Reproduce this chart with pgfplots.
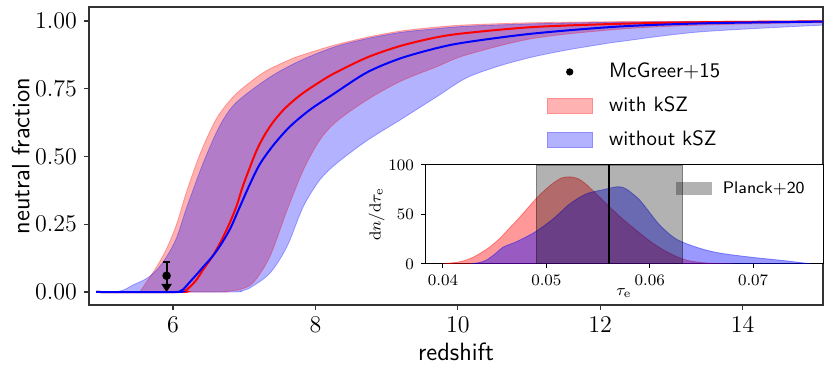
\documentclass[border=0pt]{standalone}
\usepackage{pgfplots}
\pgfplotsset{compat=1.18}
\usepgfplotslibrary{fillbetween}
\usetikzlibrary{arrows.meta}

\newcommand{\tickfont}{\fontsize{12.2}{14}\selectfont}
\newcommand{\labfont}{\fontsize{12.5}{15}\selectfont\sffamily}
\newcommand{\legfont}{\fontsize{10.4}{12}\selectfont\sffamily}
\newcommand{\insetfont}{\fontsize{8.4}{10}\selectfont}

\begin{document}
\begin{tikzpicture}

\begin{axis}[
    at={(0pt,0pt)}, anchor=south west,
    scale only axis, width=367pt, height=149pt,
    xmin=4.82, xmax=15.13, ymin=-0.048, ymax=1.052,
    xtick={6,8,10,12,14}, ytick={0,0.25,0.5,0.75,1},
    xtick pos=bottom, ytick pos=left,
    tick align=outside, major tick length=2.5pt,
    axis line style={black!80, line width=0.8pt},
    every tick/.style={black!80, line width=0.6pt},
    yticklabel style={/pgf/number format/fixed, /pgf/number format/fixed zerofill,
        /pgf/number format/precision=2, font=\tickfont},
    xticklabel style={font=\tickfont},
    xlabel={redshift}, ylabel={neutral fraction},
    xlabel style={font=\labfont, at={(axis description cs:0.5,0)}, anchor=center, yshift=-23.5pt},
    ylabel style={font=\labfont, at={(axis description cs:-0.093,0.5)}, anchor=center},
    legend style={draw=none, fill=none, at={(axis description cs:0.615,0.84)}, anchor=north west,
        font=\legfont, row sep=4pt},
    legend cell align=left,
]

% with kSZ band
\addplot[forget plot, name path=ru, smooth, tension=0.5, draw=red, draw opacity=0.3, line width=0.4pt] coordinates {
    (4.92,0) (5.48,0) (5.54,0.004) (5.63,0.038) (5.77,0.093) (5.91,0.16) (6.05,0.25) (6.19,0.37)
    (6.38,0.51) (6.61,0.64) (6.85,0.722) (7.1,0.778) (7.32,0.818) (7.6,0.853) (7.78,0.872)
    (8.25,0.91) (8.72,0.94) (9.19,0.963) (9.66,0.977) (10.12,0.986) (11.06,0.994)
    (12.27,0.998) (13.5,0.999) (15.13,1.0)
};
\addplot[forget plot, name path=rl, smooth, tension=0.5, draw=red, draw opacity=0.3, line width=0.4pt] coordinates {
    (4.92,0) (6.6,0) (6.75,0.002) (6.94,0.009) (7.13,0.035) (7.36,0.13) (7.6,0.30) (7.83,0.45)
    (8.06,0.56) (8.30,0.63) (8.72,0.708) (9.19,0.777) (9.7,0.831) (10.12,0.875)
    (11.06,0.936) (12.27,0.97) (13.4,0.985) (15.13,0.995)
};
\addplot[forget plot, fill=red, fill opacity=0.3, draw=none] fill between[of=ru and rl];

% without kSZ band
\addplot[forget plot, name path=bu, smooth, tension=0.5, draw=blue, draw opacity=0.3, line width=0.4pt] coordinates {
    (4.92,0) (5.15,0) (5.3,0.007) (5.44,0.026) (5.63,0.05) (5.77,0.081) (5.91,0.13)
    (6.05,0.2) (6.19,0.31) (6.43,0.48) (6.66,0.615) (6.89,0.7) (7.36,0.793)
    (7.78,0.853) (8.25,0.903) (8.72,0.935) (9.19,0.958) (9.66,0.971) (10.12,0.981)
    (11.06,0.99) (12.27,0.996) (13.5,0.998) (15.13,0.999)
};
\addplot[forget plot, name path=bl, smooth, tension=0.5, draw=blue, draw opacity=0.3, line width=0.4pt] coordinates {
    (4.92,0) (6.8,0) (6.95,0.004) (7.08,0.015) (7.36,0.069) (7.6,0.167) (7.83,0.315)
    (8.06,0.413) (8.30,0.475) (8.72,0.558) (9.19,0.635) (9.7,0.72)
    (10.12,0.79) (10.59,0.835) (11.06,0.868) (11.53,0.893) (11.99,0.913) (12.27,0.924)
    (13.4,0.96) (15.13,0.985)
};
\addplot[forget plot, fill=blue, fill opacity=0.3, draw=none] fill between[of=bu and bl];

% median curves
\addplot[forget plot, red, line width=1pt, smooth, tension=0.5] coordinates {
    (4.92,0) (6.1,0) (6.17,0.004) (6.24,0.02) (6.33,0.045) (6.425,0.083) (6.55,0.13)
    (6.66,0.18) (6.78,0.245) (6.89,0.315) (6.98,0.39) (7.08,0.46) (7.17,0.52) (7.27,0.572)
    (7.4,0.625) (7.55,0.672) (7.7,0.708) (7.83,0.735) (8.0,0.765) (8.25,0.805) (8.72,0.865)
    (9.19,0.908) (9.7,0.94) (10.12,0.956) (11.06,0.978) (12.27,0.99) (13.5,0.996) (15.13,0.999)
};
\addplot[forget plot, blue, line width=1pt, smooth, tension=0.5] coordinates {
    (4.92,0) (6.05,0) (6.1,0.003) (6.145,0.01) (6.24,0.038) (6.33,0.064) (6.425,0.093)
    (6.55,0.13) (6.66,0.17) (6.8,0.232) (6.94,0.315) (7.08,0.398) (7.22,0.472) (7.41,0.542)
    (7.64,0.61) (7.92,0.672) (8.25,0.73) (8.72,0.81) (9.19,0.862) (9.7,0.9) (10.12,0.922)
    (11.06,0.954) (12.27,0.98) (13.5,0.992) (15.13,0.998)
};

% McGreer+15 upper limit
\addplot[forget plot, black, line width=1pt, -{Triangle[width=5pt,length=4pt]}] coordinates {(5.91,0.06) (5.91,0.0)};
\addplot[forget plot, black, mark=*, mark size=1.6pt, line width=1pt,
    error bars/.cd, y dir=plus, y explicit, error mark=-,
    error mark options={rotate=90, mark size=1.8pt, line width=1pt, black},
    error bar style={line width=1pt, black}] coordinates {(5.91,0.06) +- (0,0.05)};

\addlegendimage{legend image code/.code={\fill[black] (11.25pt,0pt) circle (1.6pt);
    \path[draw=none] (0pt,0pt) rectangle (29pt,0.1pt);}}
\addlegendentry{McGreer+15}
\addlegendimage{legend image code/.code={\fill[red, fill opacity=0.3] (0pt,-3.75pt) rectangle (22.5pt,3.75pt);
    \draw[red!45, line width=0.4pt] (0pt,-3.75pt) rectangle (22.5pt,3.75pt);
    \path[draw=none] (0pt,0pt) rectangle (29pt,0.1pt);}}
\addlegendentry{with kSZ}
\addlegendimage{legend image code/.code={\fill[blue, fill opacity=0.3] (0pt,-3.75pt) rectangle (22.5pt,3.75pt);
    \draw[blue!45, line width=0.4pt] (0pt,-3.75pt) rectangle (22.5pt,3.75pt);
    \path[draw=none] (0pt,0pt) rectangle (29pt,0.1pt);}}
\addlegendentry{without kSZ}
\end{axis}

% inset: tau_e distributions
\begin{axis}[
    at={(168pt,20.5pt)}, anchor=south west,
    scale only axis, width=199pt, height=49.5pt,
    axis background/.style={fill=white},
    xmin=0.03826, xmax=0.07676, ymin=0, ymax=100,
    xtick={0.04,0.05,0.06,0.07}, ytick={0,50,100},
    scaled x ticks=false,
    xtick pos=bottom, ytick pos=left,
    tick align=outside, major tick length=2pt,
    axis line style={black, line width=0.5pt},
    every tick/.style={black, line width=0.5pt},
    xticklabel style={/pgf/number format/fixed, /pgf/number format/fixed zerofill,
        /pgf/number format/precision=2, font=\insetfont},
    yticklabel style={font=\insetfont},
    xlabel={$\tau_{\mathrm{e}}$}, ylabel={$\mathrm{d}n/\mathrm{d}\tau_{\mathrm{e}}$},
    xlabel style={font=\insetfont, at={(axis description cs:0.5,0)}, anchor=north, yshift=-9pt},
    ylabel style={font=\insetfont, yshift=-5pt},
    legend style={draw=none, fill=none, at={(axis description cs:1,1)}, anchor=north east,
        font=\fontsize{8.4}{10}\selectfont\sffamily, xshift=-4pt, yshift=-4pt},
]
\addplot[forget plot, smooth, tension=0.5, fill=red, fill opacity=0.4, draw=red, draw opacity=0.4, line width=0.4pt] coordinates {
    (0.0400,0.3) (0.0415,2) (0.0425,5) (0.0433,9) (0.0445,17) (0.0455,26) (0.0465,37)
    (0.0474,47) (0.0490,66) (0.0500,76) (0.0507,82) (0.0515,87) (0.0523,88) (0.0531,86)
    (0.0539,80) (0.0549,70) (0.0561,58) (0.0571,48) (0.0587,34) (0.0603,21) (0.0619,11)
    (0.0635,4) (0.0655,1) (0.0680,0.2)
} \closedcycle;
\addplot[forget plot, smooth, tension=0.5, fill=blue, fill opacity=0.4, draw=blue, draw opacity=0.4, line width=0.4pt] coordinates {
    (0.0426,0) (0.0435,1.5) (0.0442,4) (0.0450,10) (0.0458,17) (0.0465,20) (0.0474,24)
    (0.0490,33) (0.0507,46) (0.0523,61) (0.0539,71) (0.0555,75) (0.0568,78) (0.0575,77)
    (0.0581,73) (0.0590,65) (0.0597,56) (0.0610,39) (0.0626,25) (0.0648,16) (0.0668,11)
    (0.0697,7) (0.0729,3.5) (0.0755,0.3)
} \closedcycle;
% Planck+20 band
\addplot[forget plot, fill=black, fill opacity=0.3, draw=black, draw opacity=0.3, line width=0.4pt] coordinates {
    (0.0490,0) (0.0490,100) (0.0632,100) (0.0632,0)
} -- cycle;
\addplot[forget plot, black, line width=1pt] coordinates {(0.0561,0) (0.0561,100)};
\addlegendimage{legend image code/.code={\path[draw=none, fill=black, fill opacity=0.3] (0pt,-3.25pt) rectangle (18pt,3.25pt);
    \path[draw=none] (0pt,0pt) rectangle (21.5pt,0.1pt);}}
\addlegendentry{Planck+20}
\end{axis}

\pgfresetboundingbox
\useasboundingbox (-44.5pt,-34.5pt) rectangle (371pt,152.5pt);
\end{tikzpicture}
\end{document}
